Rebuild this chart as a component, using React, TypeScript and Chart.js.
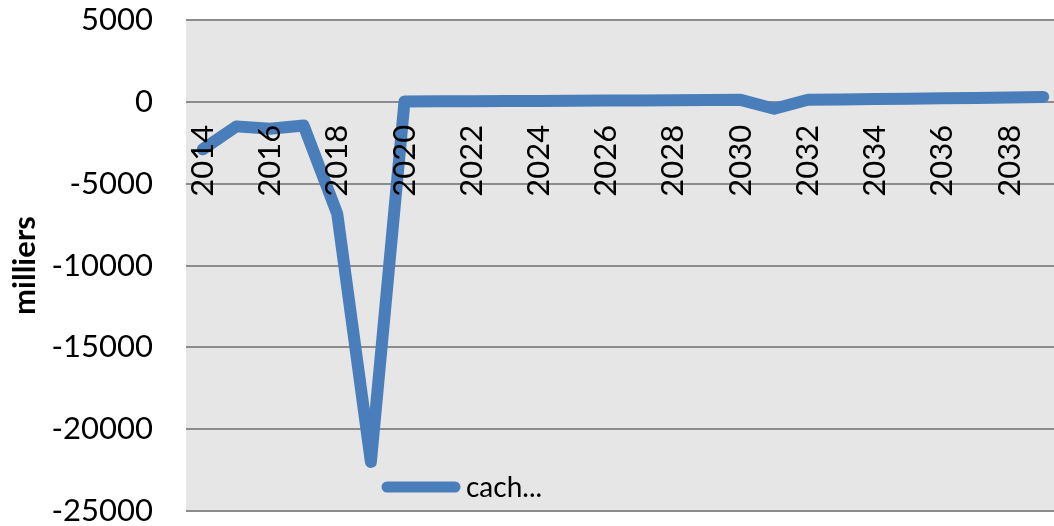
import React, { useEffect, useRef } from "react";
import { Chart, registerables } from "chart.js";

Chart.register(...registerables);

// Yearly cash-flow series (thousands)
const years: string[] = [
  "2014", "2015", "2016", "2017", "2018", "2019", "2020", "2021", "2022",
  "2023", "2024", "2025", "2026", "2027", "2028", "2029", "2030", "2031",
  "2032", "2033", "2034", "2035", "2036", "2037", "2038", "2039",
];
const cashValues: number[] = [
  -2900, -1500, -1650, -1450, -6850, -22000, 20, 30, 40, 45, 55, 60, 75,
  85, 95, 105, 120, -420, 130, 150, 170, 195, 215, 240, 265, 300,
];
const seriesLabel = "cach...";
const axisTitle = "milliers";

const FONT = "Lato, 'Open Sans', sans-serif";
const LINE_COLOR = "#4a7ebb";

const plotBackground = {
  id: "plotBackground",
  beforeDraw(chart: any) {
    const { ctx, chartArea } = chart;
    ctx.save();
    ctx.fillStyle = "#e6e6e6";
    ctx.fillRect(chartArea.left, chartArea.top, chartArea.right - chartArea.left, chartArea.bottom - chartArea.top);
    ctx.restore();
  },
};

// Legend entry drawn inside the lower part of the plot
const innerLegend = {
  id: "innerLegend",
  afterDraw(chart: any) {
    const { ctx, chartArea } = chart;
    const ds = chart.data.datasets[0];
    const x0 = chartArea.left + 201;
    const y = chartArea.bottom - 24;
    ctx.save();
    ctx.strokeStyle = ds.borderColor;
    ctx.lineWidth = 11;
    ctx.lineCap = "round";
    ctx.beginPath();
    ctx.moveTo(x0, y);
    ctx.lineTo(x0 + 68, y);
    ctx.stroke();
    ctx.fillStyle = "#000";
    ctx.font = `28px ${FONT}`;
    ctx.textBaseline = "alphabetic";
    ctx.textAlign = "left";
    ctx.fillText(ds.label, x0 + 79, y + 10);
    ctx.restore();
  },
};

export default function App() {
  const canvasRef = useRef<HTMLCanvasElement | null>(null);

  useEffect(() => {
    const canvas = canvasRef.current;
    if (!canvas) return;
    const chart = new Chart(canvas, {
      type: "line",
      data: {
        labels: years,
        datasets: [
          {
            label: seriesLabel,
            data: cashValues,
            borderColor: LINE_COLOR,
            backgroundColor: LINE_COLOR,
            borderWidth: 12,
            borderJoinStyle: "round",
            borderCapStyle: "round",
            pointRadius: 0,
            tension: 0,
            fill: false,
          },
        ],
      },
      options: {
        animation: false,
        responsive: false,
        devicePixelRatio: 1,
        layout: { padding: { top: 20, bottom: 15, left: 0, right: 0 } },
        plugins: { legend: { display: false }, tooltip: { enabled: false } },
        scales: {
          x: {
            type: "category",
            position: { y: 0 },
            offset: true,
            grid: { display: false, drawTicks: false },
            border: { display: false },
            ticks: {
              z: 1,
              autoSkip: false,
              maxRotation: 90,
              minRotation: 90,
              padding: 23,
              color: "#000",
              font: { family: FONT, size: 31, lineHeight: 1 },
              callback: (_v: any, i: number) => (i % 2 === 0 ? years[i] : ""),
            },
            afterFit(scale: any) {
              scale.paddingLeft = 0;
              scale.paddingRight = 0;
            },
          },
          y: {
            min: -25000,
            max: 5000,
            ticks: {
              stepSize: 5000,
              padding: 33,
              color: "#000",
              font: { family: FONT, size: 31, lineHeight: 1 },
              callback: (v: any) => String(v),
            },
            grid: { color: "#8c8c8c", lineWidth: 2, drawTicks: false },
            border: { display: false },
            title: {
              display: true,
              text: axisTitle,
              color: "#000",
              font: { family: FONT, size: 31, weight: "bold", lineHeight: 1.2 },
              padding: { top: 6, bottom: 0 },
            },
            afterFit(scale: any) {
              scale.width = 186;
              scale.paddingTop = 0;
              scale.paddingBottom = 0;
            },
          },
        },
      },
      plugins: [plotBackground, innerLegend],
    });
    return () => chart.destroy();
  }, []);

  return (
    <div style={{ position: "fixed", left: 0, top: 0, width: 1054, height: 526, overflow: "hidden", background: "#fff" }}>
      <canvas ref={canvasRef} width={1060} height={526} style={{ width: 1060, height: 526, display: "block" }} />
    </div>
  );
}
